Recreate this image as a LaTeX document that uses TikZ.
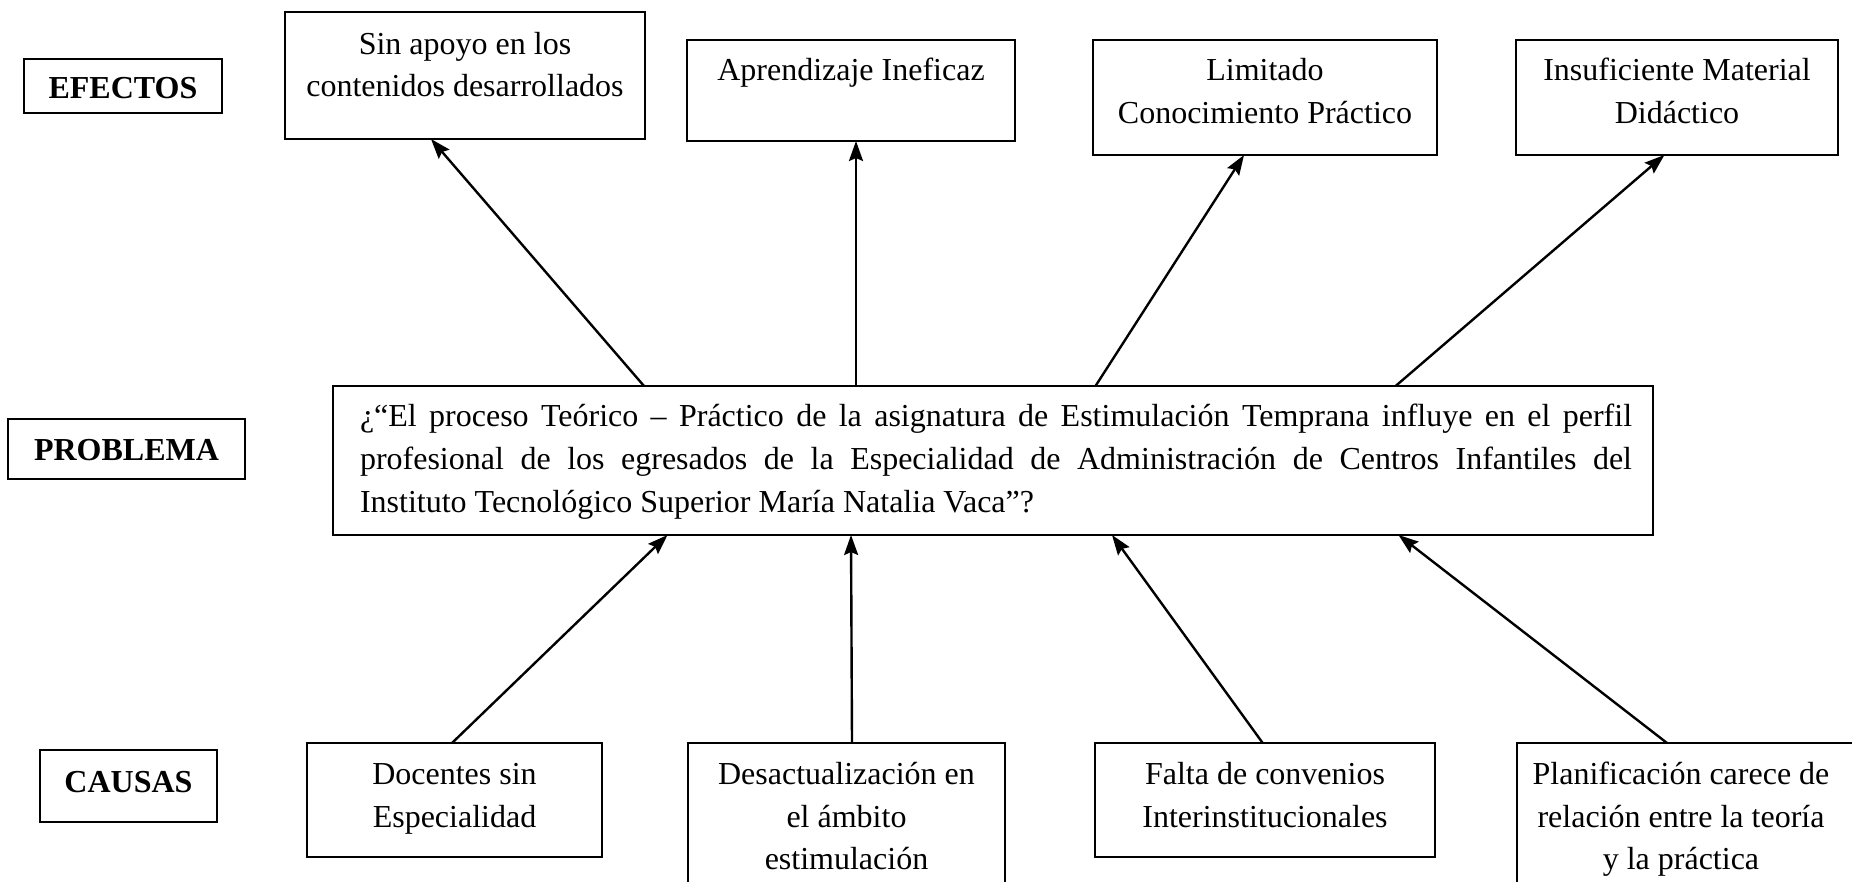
\documentclass[tikz,border=0pt]{standalone}
\usepackage{fontspec}
\setmainfont{Liberation Serif}
\usetikzlibrary{arrows.meta}
\begin{document}
\begin{tikzpicture}[x=1pt,y=-1pt,
  every node/.style={inner sep=0pt, outer sep=0pt},
  txt/.style={font=\fontsize{32}{42.5}\selectfont, align=center},
  ptxt/.style={font=\fontsize{32}{43}\selectfont, align=left},
  lbl/.style={font=\fontsize{32}{42.5}\selectfont\bfseries},
  frame/.style={draw, line width=2.4pt},
  arr/.style={line width=2.4pt, -{Stealth[length=20pt,width=14pt,inset=3pt]}}]
\useasboundingbox (0,0) rectangle (1852,881);
% frames
\node[frame, minimum width=198pt, minimum height=54pt] (lab1) at (123,86) {};
\node[frame, minimum width=360pt, minimum height=127pt] (e1) at (465,75.5) {};
\node[frame, minimum width=328pt, minimum height=101pt] (e2) at (851,90.5) {};
\node[frame, minimum width=344pt, minimum height=115pt] (e3) at (1265,97.5) {};
\node[frame, minimum width=322pt, minimum height=115pt] (e4) at (1677,97.5) {};
\node[frame, minimum width=237pt, minimum height=60pt] (lab2) at (126.5,449) {};
\node[frame, minimum width=1320pt, minimum height=149pt] (prob) at (993,460.5) {};
\node[frame, minimum width=177pt, minimum height=72pt] (lab3) at (128.5,786) {};
\node[frame, minimum width=295pt, minimum height=114pt] (c1) at (454.5,800) {};
\node[frame, minimum width=317pt, minimum height=147pt] (c2) at (846.5,816.5) {};
\node[frame, minimum width=340pt, minimum height=114pt] (c3) at (1265,800) {};
\node[frame, minimum width=345pt, minimum height=147pt] (c4) at (1689.5,816.5) {};
% texts
\node[lbl] (tl1) at (123,90) {\strut EFECTOS};
\node[lbl] (tl2) at (126.5,452) {\strut PROBLEMA};
\node[lbl] (tl3) at (128.5,784) {\strut CAUSAS};
\node[txt] (te1) at (465,66.8) {\strut Sin apoyo en los\\\strut contenidos desarrollados};
\node[txt] (te2) at (851,72) {\strut Aprendizaje Ineficaz};
\node[txt] (te3) at (1265,93.3) {\strut Limitado\\\strut Conocimiento Práctico};
\node[txt] (te4) at (1677,93.3) {\strut Insuficiente Material\\\strut Didáctico};
\node[ptxt] (tp) at (996,460.9) {\hbox to 1272pt{\strut ¿“El proceso Teórico – Práctico de la asignatura de Estimulación Temprana influye en el perfil}\\\hbox to 1272pt{\strut profesional de los egresados de la Especialidad de Administración de Centros Infantiles del}\\\strut Instituto Tecnológico Superior María Natalia Vaca”?};
\node[txt] (tc1) at (454.5,797.3) {\strut Docentes sin\\\strut Especialidad};
\node[txt] (tc2) at (846.5,818.5) {\strut Desactualización en\\\strut el ámbito\\\strut estimulación};
\node[txt] (tc3) at (1265,797.3) {\strut Falta de convenios\\\strut Interinstitucionales};
\node[txt] (tc4) at (1681,818.5) {\strut Planificación carece de\\\strut relación entre la teoría\\\strut y la práctica};
% effect arrows
\draw[arr] ([xshift=-349pt]prob.north) -- ([xshift=-34pt]e1.south);
\draw[arr] ([xshift=-137pt]prob.north) -- ([xshift=5pt]e2.south);
\draw[arr] ([xshift=102.5pt]prob.north) -- ([xshift=-21pt]e3.south);
\draw[arr] ([xshift=402.6pt]prob.north) -- ([xshift=-12.6pt]e4.south);
% cause arrows
\draw[arr] ([xshift=-2.5pt]c1.north) -- ([xshift=-325.5pt]prob.south);
\draw[arr] ([xshift=5.5pt]c2.north) -- ([xshift=-142pt]prob.south);
\draw[arr] ([xshift=-2.3pt]c3.north) -- ([xshift=119pt]prob.south);
\draw[arr] ([xshift=-22.5pt]c4.north) -- ([xshift=405.5pt]prob.south);
\end{tikzpicture}
\end{document}
